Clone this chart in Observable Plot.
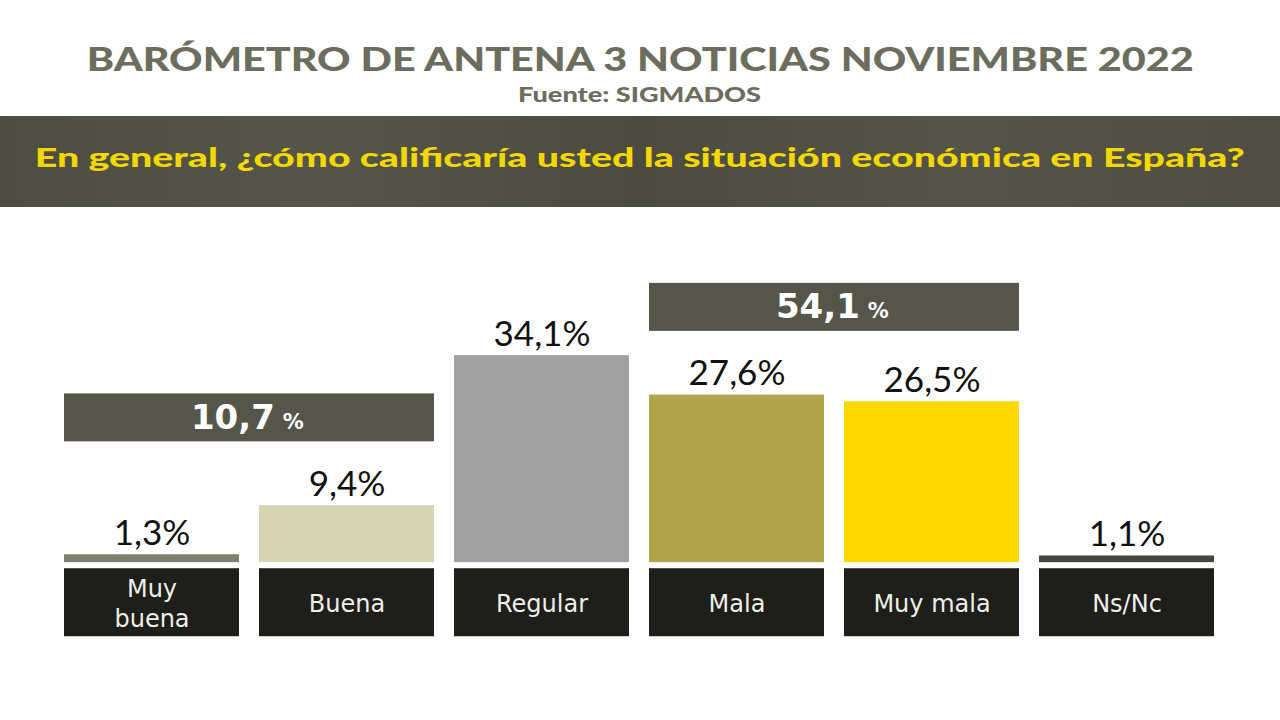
<!DOCTYPE html>
<html><head><meta charset="utf-8">
<script src="https://cdn.jsdelivr.net/npm/d3@7"></script>
<script src="https://cdn.jsdelivr.net/npm/@observablehq/plot@0.6"></script>
<style>
body{margin:0;width:1280px;height:720px;background:#fff;overflow:hidden;position:relative;font-family:"Lato",sans-serif;}
.line{position:absolute;left:0;width:1280px;text-align:center;white-space:nowrap;line-height:1;font-family:"Lato",sans-serif;font-weight:900;}
.line span{display:inline-block;transform-origin:50% 50%;}
#title{top:43px;font-size:32px;color:#6c6d5d;}
#sub{top:84px;font-size:20px;color:#6c6d5d;}
#band{position:absolute;top:116px;left:0;width:1280px;height:91px;
 background:linear-gradient(90deg,#4d4d41 0%,#55554a 25%,#4b4b40 50%,#545448 75%,#4e4e42 100%);}
#question{top:144px;font-size:26px;color:#f3d700;}
#chart{position:absolute;top:207px;left:0;}
</style></head>
<body>
<div class="line" id="title"><span>BARÓMETRO DE ANTENA 3 NOTICIAS NOVIEMBRE 2022</span></div>
<div class="line" id="sub"><span>Fuente: SIGMADOS</span></div>
<div id="band"></div>
<div class="line" id="question"><span>En general, ¿cómo calificaría usted la situación económica en España?</span></div>
<div id="chart"></div>
<script>
const categories = ["Muy buena","Buena","Regular","Mala","Muy mala","Ns/Nc"];
const tickLabels = ["Muy\nbuena","Buena","Regular","Mala","Muy mala","Ns/Nc"];
const values = [1.3, 9.4, 34.1, 27.6, 26.5, 1.1];
const barColors = ["#7f7f6d","#d5d5b4","#a2a1a2","#b1a44b","#fdd900","#45453b"];
const groupFirst = ["Muy buena","Mala"];
const groupLast = ["Buena","Muy mala"];
const groupTotals = [10.7, 54.1];

// fit header widths
function fit(id, target){
  const s = document.querySelector("#"+id+" span");
  const w = s.getBoundingClientRect().width;
  s.style.transform = `scaleX(${target/w})`;
}
fit("title",1107); fit("sub",243); fit("question",1210);

const fmt = v => v.toFixed(1).replace(".", ",");
const data = categories.map((c,i)=>({cat:c, label:tickLabels[i], value:values[i]}));
const W=1280, H=513, ML=62, MR=65, PAD=0.105;
const band = d3.scaleBand().domain(categories).range([ML, W-MR]).paddingInner(PAD).paddingOuter(0);
const step = band.step();
const groups = groupFirst.map((f,i)=>{
  const a = categories.indexOf(f), b = categories.indexOf(groupLast[i]);
  const top = d3.max(values.slice(a,b+1));
  return {first:f, last:groupLast[i], total:groupTotals[i], y1:top+10.5, y2:top+18.4};
});

const chart = Plot.plot({
  width:W, height:H, marginLeft:ML, marginRight:MR, marginTop:0, marginBottom:0,
  x:{domain:categories, paddingInner:PAD, paddingOuter:0, axis:null},
  y:{domain:[-26,58.5], axis:null},
  color:{domain:categories, range:barColors},
  style:{background:"transparent", overflow:"visible"},
  marks:[
    Plot.barY(data,{x:"cat", y:"value", fill:"cat"}),
    Plot.barY(data,{x:"cat", y1:-1, y2:-12.2, fill:"#1e1e1a"}),
    Plot.text(data,{x:"cat", y:"value", text:d=>fmt(d.value)+"%", lineAnchor:"bottom", dy:-10,
      fontSize:35, fontFamily:"Lato", fontWeight:400, fill:"#111"}),
    Plot.text(data,{x:"cat", y:-6.6, text:"label", lineHeight:1.25, fill:"#efefe9",
      fontSize:24, fontFamily:"DejaVu Sans"}),
    Plot.rect(groups,{x1:"first", x2:"last", y1:"y1", y2:"y2", fill:"#55554a"}),
    Plot.text(groups,{x:"first", y:d=>(d.y1+d.y2)/2, text:d=>fmt(d.total), textAnchor:"end", lineAnchor:"bottom",
      dx:step/2+25, dy:11, fontSize:34, fontWeight:"bold", fontFamily:"DejaVu Sans", fill:"#fff"}),
    Plot.text(groups,{x:"first", y:d=>(d.y1+d.y2)/2, text:d=>"%", textAnchor:"start", lineAnchor:"bottom",
      dx:step/2+33, dy:11, fontSize:21, fontWeight:"bold", fontFamily:"DejaVu Sans", fill:"#fff"})
  ]
});
document.getElementById("chart").appendChild(chart);
</script>
</body></html>
